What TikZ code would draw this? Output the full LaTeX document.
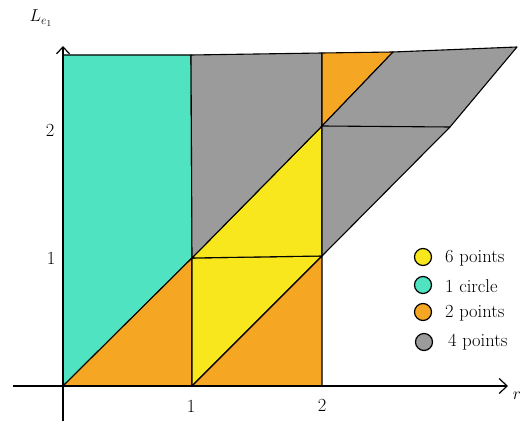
\documentclass[tikz,border=0pt]{standalone}
\usetikzlibrary{arrows.meta}
\definecolor{cteal}{RGB}{80,227,194}
\definecolor{corange}{RGB}{245,166,35}
\definecolor{cyellow}{RGB}{248,231,28}
\definecolor{cgray}{RGB}{155,155,155}
\begin{document}
\begin{tikzpicture}[x=1pt,y=-1pt,
  region/.style={draw=black,line width=1.1pt,line join=round},
  axis/.style={line width=1.2pt},
  lbl/.style={font=\fontsize{18.5}{22}\selectfont},
  legdot/.style={circle,draw=black,line width=1.2pt,minimum size=17pt,inner sep=0pt}]
\useasboundingbox (0,0) rectangle (530,422);
% regions
\draw[region,fill=cteal] (63,386) -- (63,55) -- (191,55) -- (192,258) -- cycle;
\draw[region,fill=corange] (63,386) -- (192,258) -- (192,386) -- cycle;
\draw[region,fill=cyellow] (192,258) -- (322,256) -- (192,386) -- cycle;
\draw[region,fill=corange] (192,386) -- (322,256) -- (322,386) -- cycle;
\draw[region,fill=cyellow] (192,258) -- (322,126) -- (322,256) -- cycle;
\draw[region,fill=cgray] (191,55) -- (322,53) -- (322,126) -- (192,258) -- cycle;
\draw[region,fill=corange] (322,53) -- (393,52) -- (322,126) -- cycle;
\draw[region,fill=cgray] (322,256) -- (322,126) -- (393,52) -- (517,47) -- (450,127) -- cycle;
\draw[region] (322,126) -- (450,127);
% axes
\coordinate (xs) at (13,386);
\coordinate (xe) at (508,386);
\coordinate (ys) at (63,421);
\coordinate (ye) at (63,46);
\draw[axis,-{Straight Barb[length=8pt,width=15pt]}] (xs) -- (xe);
\draw[axis,-{Straight Barb[length=7pt,width=13pt]}] (ys) -- (ye);
\node[lbl] (ylab) at (41,18) {$L_{e_1}$};
\node[lbl] (xlab) at (517,396) {$r$};
\node[lbl] (x1) at (191,406) {1};
\node[lbl] (x2) at (322,405) {2};
\node[lbl] (y1) at (51,258) {1};
\node[lbl] (y2) at (50,130) {2};
% legend
\node[legdot,fill=cyellow] (l1) at (423,257) {};
\node[legdot,fill=cteal] (l2) at (423,285) {};
\node[legdot,fill=corange] (l3) at (423,312) {};
\node[legdot,fill=cgray] (l4) at (424,342) {};
\node[lbl,anchor=west,inner sep=0pt] (t1) at (445,258) {6 points};
\node[lbl,anchor=west,inner sep=0pt] (t2) at (445,286) {1 circle};
\node[lbl,anchor=west,inner sep=0pt] (t3) at (445,313) {2 points};
\node[lbl,anchor=west,inner sep=0pt] (t4) at (448,342) {4 points};
\end{tikzpicture}
\end{document}
